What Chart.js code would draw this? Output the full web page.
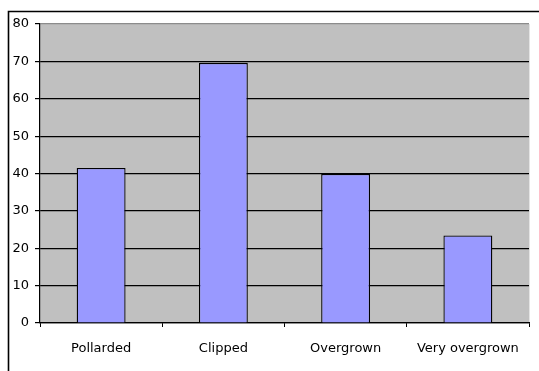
<!DOCTYPE html>
<html>
<head>
<meta charset="utf-8">
<script src="https://cdn.jsdelivr.net/npm/chart.js@4/dist/chart.umd.min.js"></script>
<style>
  html, body { margin: 0; padding: 0; background: #fff; }
  #wrap { width: 539px; height: 371px; position: relative; }
</style>
</head>
<body>
<div id="wrap"><canvas id="c" width="539" height="371"></canvas></div>
<script>
// Tree condition categories and their counts
const categories = ['Pollarded', 'Clipped', 'Overgrown', 'Very overgrown'];
const counts = [41.5, 69.6, 39.9, 23.4];
const yTicks = [0, 10, 20, 30, 40, 50, 60, 70, 80];

const FONT = { family: 'DejaVu Sans', size: 13 };

// Grey plot background plus the frame around the whole chart
const framePlugin = {
  id: 'frame',
  beforeDraw(chart) {
    const { ctx, chartArea: a } = chart;
    ctx.save();
    ctx.fillStyle = '#c0c0c0';
    ctx.fillRect(a.left, a.top, a.right - a.left, a.bottom - a.top);
    ctx.strokeStyle = '#e4e4e4';
    ctx.lineWidth = 1;
    ctx.beginPath();
    ctx.moveTo(a.right + 0.5, a.top);
    ctx.lineTo(a.right + 0.5, a.bottom);
    ctx.stroke();
    ctx.strokeStyle = '#000';
    ctx.lineWidth = 1.6;
    ctx.beginPath();
    ctx.moveTo(8.5, 400);
    ctx.lineTo(8.5, 11.5);
    ctx.lineTo(600, 11.5);
    ctx.stroke();
    ctx.restore();
  }
};

new Chart(document.getElementById('c'), {
  type: 'bar',
  data: {
    labels: categories,
    datasets: [{
      data: counts,
      backgroundColor: '#9999ff',
      borderColor: '#000',
      borderWidth: 1.3,
      barPercentage: 0.4,
      categoryPercentage: 1.0
    }]
  },
  options: {
    responsive: false,
    animation: false,
    devicePixelRatio: 1,
    layout: { padding: { left: 0, top: 24, right: 10, bottom: 0 } },
    plugins: { legend: { display: false }, tooltip: { enabled: false } },
    scales: {
      x: {
        afterFit(scale) { scale.height = 48; },
        grid: {
          drawOnChartArea: false,
          drawTicks: true,
          tickLength: 4,
          tickColor: '#000',
          offset: true
        },
        border: { color: '#000', width: 1.2 },
        ticks: { color: '#000', font: FONT, padding: 14, maxRotation: 0 }
      },
      y: {
        min: 0,
        max: 80,
        afterFit(scale) { scale.width = 40; },
        afterBuildTicks(scale) { scale.ticks = yTicks.map(v => ({ value: v })); },
        grid: {
          color: ctx => (ctx.tick && ctx.tick.value === 80) ? '#8c8c8c' : '#000',
          lineWidth: 1.2,
          tickLength: 5,
          tickColor: '#000'
        },
        border: { color: '#000', width: 1.2 },
        ticks: { color: '#000', font: FONT, padding: 6 }
      }
    }
  },
  plugins: [framePlugin]
});
</script>
</body>
</html>
